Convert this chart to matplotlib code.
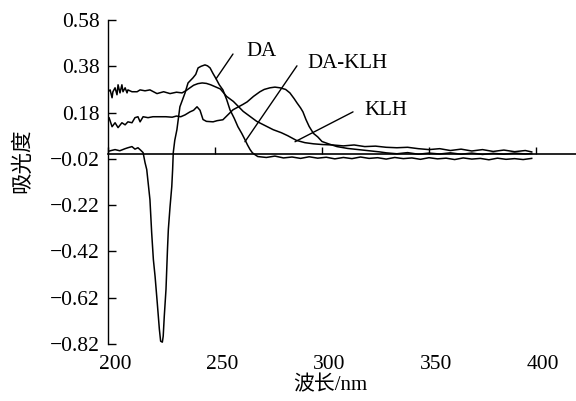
import matplotlib
matplotlib.use("Agg")
import matplotlib.pyplot as plt
import matplotlib.transforms as mtransforms

# ---- data ----
# curve with the deep negative dip (DA-KLH leader points here)
a_x = [199.5, 201.5, 203.3, 205.5, 208, 209.3, 211.2, 212.6, 214, 215.2, 216.4, 217.3,
       218.1, 219.6, 220.4, 221.2, 222, 223, 224, 224.6, 225.4, 225.8, 226.3, 227.1,
       227.8, 228.2, 229, 229.8, 230.2, 230.5, 231.2, 232.2, 233.6, 235, 236, 237.4,
       239.7, 241, 242.1, 243.5, 245.3, 246.5, 247.7, 249, 250.5, 252, 253.7, 255.5,
       257, 259, 260.7, 262.5, 264, 265.2, 266.4, 267.5, 268.7, 270, 274, 278, 282,
       286, 290, 294, 298, 302, 306, 310, 314, 318, 322, 326, 330, 334, 338, 342, 346,
       350, 354, 358, 362, 366, 370, 374, 378, 382, 386, 390, 394, 398]
a_y = [0.011, 0.016, 0.02, 0.015, 0.024, 0.028, 0.033, 0.022, 0.028, 0.018, 0.007, -0.036,
       -0.066, -0.196, -0.338, -0.455, -0.528, -0.64, -0.756, -0.808, -0.812, -0.786, -0.70, -0.584,
       -0.41, -0.325, -0.226, -0.14, -0.066, 0.007, 0.06, 0.106, 0.205, 0.24, 0.265, 0.308,
       0.33, 0.345, 0.373, 0.38, 0.386, 0.382, 0.373, 0.35, 0.326, 0.30, 0.278, 0.235,
       0.192, 0.155, 0.119, 0.09, 0.063, 0.04, 0.02, 0.006, -0.002, -0.01, -0.014, -0.008, -0.016,
       -0.012, -0.018, -0.011, -0.017, -0.013, -0.02, -0.014, -0.019, -0.012, -0.018, -0.015, -0.021,
       -0.014, -0.019, -0.016, -0.022, -0.015, -0.02, -0.017, -0.023, -0.016, -0.021, -0.018, -0.024,
       -0.017, -0.022, -0.019, -0.023, -0.018]

# KLH curve (starts high, slow decay)
b_x = [199.5, 200, 201, 201.9, 202.3, 203.3, 204.2, 204.7, 205.6, 206.5, 207, 208, 208.9,
       209.3, 211.2, 213.6, 215, 217.3, 219.6, 222.9, 226, 229, 232, 234.6, 236.5, 238.3,
       240, 242, 244, 246, 248, 250.5, 252.5, 255.4, 258.6, 263.2, 269.5, 277.2, 281, 284,
       288, 292, 296, 300, 305, 310, 315, 320, 325, 330, 335, 340, 345, 350, 355, 360, 365,
       370, 375, 380, 385, 390, 395, 398]
b_y = [0.244, 0.27, 0.278, 0.244, 0.27, 0.287, 0.257, 0.30, 0.265, 0.30, 0.27, 0.287, 0.265,
       0.278, 0.27, 0.27, 0.278, 0.274, 0.278, 0.262, 0.27, 0.262, 0.268, 0.265, 0.275, 0.287,
       0.298, 0.305, 0.308, 0.306, 0.30, 0.29, 0.282, 0.25, 0.228, 0.185, 0.142, 0.106, 0.093, 0.08,
       0.06, 0.05, 0.045, 0.042, 0.04, 0.036, 0.04, 0.033, 0.035, 0.03, 0.028, 0.03, 0.024, 0.02,
       0.024, 0.016, 0.022, 0.014, 0.02, 0.012, 0.018, 0.011, 0.016, 0.01]

# DA curve (peak near 278 nm)
c_x = [199.5, 200.5, 201.9, 203.3, 204.7, 206.5, 208, 209.3, 211.2, 212.6, 214, 215, 216.4,
       218.7, 221, 223.3, 227, 230, 232, 234, 236, 238.3, 240, 241.6, 243, 244.4, 246, 249.1,
       251, 253.7, 256, 258.4, 261, 263, 265, 268, 271, 273, 275.7, 278, 280.4, 283, 285,
       287, 288.3, 290, 291.1, 292.5, 294, 296, 298, 300, 303, 307, 312, 319, 327, 330, 335,
       340, 345, 350, 355, 360, 365, 370, 375, 380, 385, 390, 395, 398]
c_y = [0.127, 0.158, 0.119, 0.136, 0.115, 0.136, 0.127, 0.14, 0.136, 0.158, 0.162, 0.14, 0.162,
       0.158, 0.162, 0.162, 0.162, 0.16, 0.165, 0.162, 0.17, 0.183, 0.19, 0.205, 0.19, 0.15, 0.142,
       0.14, 0.145, 0.149, 0.17, 0.192, 0.205, 0.215, 0.226, 0.25, 0.27, 0.28, 0.287, 0.29, 0.287,
       0.28, 0.265, 0.24, 0.222, 0.2, 0.183, 0.15, 0.12, 0.09, 0.075, 0.055, 0.045, 0.033, 0.025,
       0.018, 0.01, 0.006, 0.002, 0.007, 0.0, 0.005, 0.001, 0.006, 0.0, 0.005, -0.001, 0.004, 0.0,
       0.005, 0.001, 0.003]

y_ticks = [0.58, 0.38, 0.18, -0.02, -0.22, -0.42, -0.62, -0.82]
y_tick_labels = ["0.58", "0.38", "0.18", "\u22120.02", "\u22120.22", "\u22120.42", "\u22120.62", "\u22120.82"]
x_ticks = [200, 250, 300, 350, 400]
x_tick_labels = ["200", "250", "300", "350", "400"]

x_label = "波长/nm"
y_label = "吸光度"

# annotation labels: (text, text position, leader start, leader end) in data coords
ann_text = ["DA", "DA-KLH", "KLH"]
ann_text_pos = [(271.5, 0.442), (311.7, 0.39), (329.9, 0.188)]
ann_line_start = [(258.4, 0.433), (288.3, 0.382), (314.5, 0.183)]
ann_line_end = [(250.5, 0.326), (264.0, 0.054), (287.4, 0.054)]

# ---- figure ----
serif = ["Liberation Serif", "Noto Sans CJK SC"]
plt.rcParams["font.family"] = serif

fig = plt.figure(figsize=(5.76, 4.01), dpi=100)
ax = fig.add_axes([108 / 576, 1 - 344 / 401, 1 - 108 / 576, (344 - 20) / 401])

for xs, ys in [(a_x, a_y), (b_x, b_y), (c_x, c_y)]:
    ax.plot(xs, ys, color="black", lw=1.1)

ax.set_xlim(200, 418.7)
ax.set_ylim(-0.82, 0.58)

# left spine with inward ticks
for s in ["top", "right"]:
    ax.spines[s].set_visible(False)
ax.spines["left"].set_linewidth(1.0)
ax.set_yticks(y_ticks)
ax.set_yticklabels(y_tick_labels)
ax.tick_params(axis="y", direction="in", length=6, width=1.0, pad=6, labelsize=15.5)

# bottom spine moved to y = 0 with upward ticks and no labels
ax.spines["bottom"].set_position(("data", 0))
ax.spines["bottom"].set_linewidth(1.2)
ax.set_xticks(x_ticks)
ax.tick_params(axis="x", direction="in", length=5, width=1.0, labelbottom=False)

# labels at the bottom of the axes
sec = ax.secondary_xaxis("bottom")
sec.spines["bottom"].set_visible(False)
sec.set_xticks(x_ticks)
sec.set_xticklabels(x_tick_labels)
sec.tick_params(axis="x", length=0, pad=8, labelsize=15.5)
offset = mtransforms.ScaledTranslation(0.07, 0, fig.dpi_scale_trans)
for lab in sec.get_xticklabels():
    lab.set_transform(lab.get_transform() + offset)

fig.text(330 / 576, 1 - 386 / 401, x_label, ha="center", va="center", fontsize=15,
         family=serif)
fig.text(22 / 576, 1 - 161 / 401, y_label, ha="center", va="center", rotation=90,
         fontsize=15.5, family=["Noto Sans CJK SC", "Liberation Serif"])

for t, tp, ls, le in zip(ann_text, ann_text_pos, ann_line_start, ann_line_end):
    ax.text(tp[0], tp[1], t, ha="center", va="center", fontsize=15)
    ax.annotate("", xy=le, xytext=ls,
                arrowprops=dict(arrowstyle="-", color="black", lw=1.0,
                                shrinkA=0, shrinkB=0))

fig.savefig("out.png", dpi=100)
